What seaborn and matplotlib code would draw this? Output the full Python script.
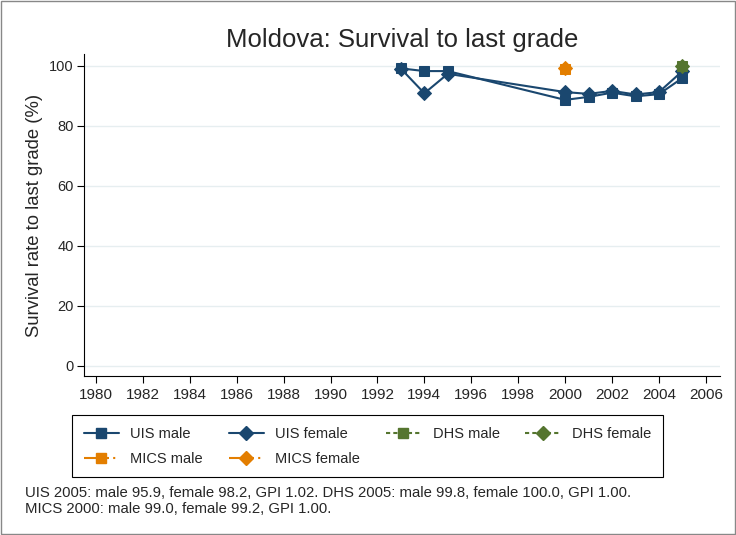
import pandas as pd
import matplotlib
matplotlib.use("Agg")
import matplotlib.pyplot as plt
from matplotlib.lines import Line2D
from matplotlib.patches import Rectangle
import seaborn as sns

# UIS series
uis_years = [1993, 1994, 1995, 2000, 2001, 2002, 2003, 2004, 2005]
uis_male = [99.1, 98.2, 98.2, 88.6, 89.6, 91.0, 89.8, 90.5, 95.9]
uis_female = [99.0, 90.8, 97.3, 91.2, 90.6, 91.6, 90.4, 91.2, 98.2]

# survey points
dhs_years = [2005]
dhs_male = [99.8]
dhs_female = [100.0]
mics_years = [2000]
mics_male = [99.0]
mics_female = [99.2]

x_ticks = list(range(1980, 2007, 2))
y_ticks = [0, 20, 40, 60, 80, 100]

note = ("UIS 2005: male 95.9, female 98.2, GPI 1.02. DHS 2005: male 99.8, female 100.0, GPI 1.00.\n"
        "MICS 2000: male 99.0, female 99.2, GPI 1.00.")

navy = "#1a476f"
green = "#55752f"
orange = "#e37e00"
dashed = (0, (2, 1.5))
dashdot = (0, (9, 2, 1, 2, 1, 2))

sns.set_style("white")
plt.rcParams["font.family"] = ["Liberation Sans", "DejaVu Sans"]

fig = plt.figure(figsize=(7.36, 5.35), dpi=100)
ax = fig.add_axes([0.1141, 0.2972, 0.8641, 0.6019])

series = [
    (uis_years, uis_male, navy, "s", "-", "UIS male"),
    (uis_years, uis_female, navy, "D", "-", "UIS female"),
    (dhs_years, dhs_male, green, "s", dashed, "DHS male"),
    (dhs_years, dhs_female, green, "D", dashed, "DHS female"),
    (mics_years, mics_male, orange, "s", dashdot, "MICS male"),
    (mics_years, mics_female, orange, "D", dashdot, "MICS female"),
]

handles = {}
for yrs, vals, col, mk, ls, lab in series:
    df = pd.DataFrame({"year": yrs, "value": vals})
    ms = 6.8 if mk == "s" else 7.5
    sns.lineplot(data=df, x="year", y="value", color=col, marker=mk,
                 markersize=ms, markeredgecolor=col, linewidth=1.5,
                 linestyle=ls if len(yrs) > 1 else "-", legend=False, ax=ax)
    handles[lab] = Line2D([], [], color=col, marker=mk, markersize=ms,
                          linestyle=ls, linewidth=1.5, markeredgecolor=col)

ax.set_xlim(1979.49, 2006.6)
ax.set_ylim(-3.43, 103.9)
ax.set_xticks(x_ticks)
ax.set_yticks(y_ticks)
ax.tick_params(axis="both", direction="out", length=5, width=0.8,
               labelsize=10.5, color="black", bottom=True, left=True)
ax.tick_params(axis="x", pad=4, labelsize=11)
ax.tick_params(axis="y", pad=2.5)
ax.yaxis.grid(True, color="#e6eef0", linewidth=1.0)
ax.xaxis.grid(False)
for side in ["top", "right"]:
    ax.spines[side].set_visible(False)
for side in ["left", "bottom"]:
    ax.spines[side].set_color("black")
    ax.spines[side].set_linewidth(0.8)
ax.set_xlabel("")
ax.set_ylabel("Survival rate to last grade (%)", fontsize=13.3, labelpad=4)
ax.set_title("Moldova: Survival to last grade", fontsize=18.5, pad=5)

order = ["UIS male", "MICS male", "UIS female", "MICS female", "DHS male", "DHS female"]
leg = fig.legend([handles[k] for k in order], order, ncol=4,
                 loc="upper left", bbox_to_anchor=(0.0978, 0.112, 0.803, 0.112),
                 mode="expand", fontsize=10.5, handlelength=2.4, handletextpad=0.8,
                 columnspacing=1.5, borderpad=0.8, labelspacing=0.75,
                 borderaxespad=0, frameon=True, fancybox=False, edgecolor="black",
                 framealpha=1)
leg.get_frame().set_linewidth(0.8)

fig.text(0.034, 0.064, note, fontsize=10.7, va="center", ha="left", linespacing=1.2)

fig.patches.append(Rectangle((0.002, 0.002), 0.996, 0.996, transform=fig.transFigure,
                             fill=False, edgecolor="#888888", linewidth=1.0))

fig.savefig("out.png", dpi=100)
